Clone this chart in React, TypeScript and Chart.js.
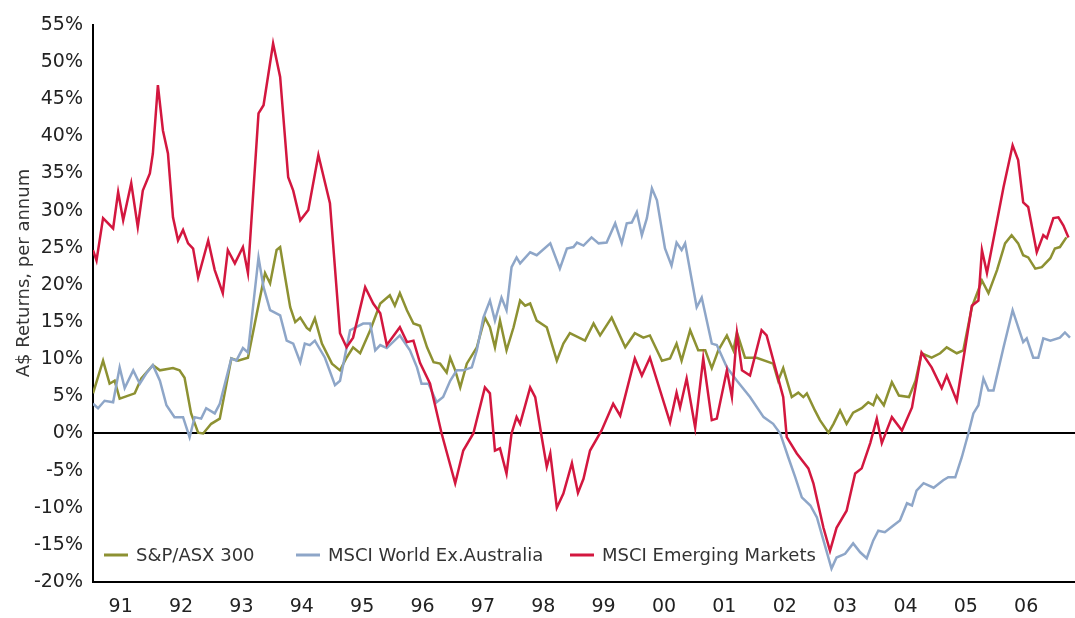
import React, { useEffect, useRef } from "react";
import { Chart, registerables } from "chart.js";

Chart.register(...registerables);

// x values are months since Jan 1991
const yearLabels = ["91", "92", "93", "94", "95", "96", "97", "98", "99", "00", "01", "02", "03", "04", "05", "06"];
const yearTickMonths = [5.5, 17.5, 29.5, 41.5, 53.5, 65.5, 77.5, 89.5, 101.5, 113.5, 125.5, 137.5, 149.5, 161.5, 173.5, 185.5];

const seriesNames = ["S&P/ASX 300", "MSCI World Ex.Australia", "MSCI Emerging Markets"];

const asxMonths = [0.0, 2.0, 3.3, 4.3, 5.3, 8.3, 9.6, 11.9, 13.3, 15.9, 17.2, 18.2, 19.5, 20.9, 21.9, 23.5, 25.2, 27.5, 28.8, 30.8, 33.2, 34.2, 35.2, 36.5, 37.2, 38.2, 39.2, 40.2, 41.2, 42.5, 43.1, 44.1, 45.5, 47.5, 49.1, 50.4, 51.7, 53.1, 55.1, 57.1, 59.0, 60.0, 61.0, 62.4, 63.7, 65.0, 66.4, 67.7, 69.0, 70.3, 71.0, 72.0, 73.0, 74.3, 76.3, 77.9, 78.9, 79.9, 80.9, 82.2, 83.6, 84.9, 85.9, 86.9, 88.2, 90.2, 92.2, 93.5, 94.8, 97.8, 99.5, 100.8, 103.1, 105.8, 107.7, 109.4, 110.7, 113.1, 114.7, 116.0, 117.0, 118.7, 120.3, 121.7, 123.0, 124.3, 126.0, 127.3, 128.0, 129.6, 131.9, 135.2, 136.2, 137.2, 138.9, 140.2, 141.2, 141.9, 143.5, 144.5, 146.2, 147.2, 148.5, 149.8, 151.1, 152.8, 154.1, 155.1, 155.8, 157.2, 158.8, 160.2, 162.2, 163.5, 164.7, 166.7, 168.4, 169.7, 171.7, 173.0, 174.7, 176.7, 178.0, 179.7, 181.3, 182.6, 183.9, 184.9, 185.9, 187.3, 188.6, 190.3, 191.2, 192.2, 193.5];
const asxValues = [5.4, 9.8, 6.7, 7.1, 4.7, 5.4, 7.4, 9.2, 8.5, 8.8, 8.5, 7.5, 2.7, 0.1, 0.0, 1.3, 2.0, 10.1, 9.8, 10.2, 18.3, 21.6, 20.2, 24.7, 25.1, 21.0, 17.0, 15.0, 15.6, 14.2, 13.9, 15.5, 12.1, 9.4, 8.5, 10.2, 11.6, 10.8, 13.9, 17.5, 18.6, 17.2, 18.9, 16.6, 14.8, 14.5, 11.6, 9.6, 9.4, 8.2, 10.2, 8.5, 6.2, 9.4, 11.6, 15.6, 14.3, 11.6, 15.2, 11.2, 14.3, 17.9, 17.2, 17.5, 15.2, 14.3, 9.8, 12.1, 13.5, 12.5, 14.8, 13.2, 15.6, 11.6, 13.5, 12.9, 13.2, 9.8, 10.1, 12.1, 9.8, 13.9, 11.2, 11.2, 8.8, 11.2, 13.2, 11.2, 13.6, 10.2, 10.2, 9.4, 7.1, 8.8, 4.9, 5.5, 4.9, 5.4, 3.1, 1.8, 0.1, 1.3, 3.1, 1.3, 2.8, 3.4, 4.2, 3.8, 5.1, 3.8, 6.9, 5.1, 4.9, 7.1, 10.8, 10.2, 10.8, 11.6, 10.8, 11.2, 17.0, 20.6, 18.9, 22.0, 25.6, 26.7, 25.6, 24.0, 23.7, 22.2, 22.4, 23.6, 24.9, 25.1, 26.4];

const worldMonths = [0.0, 1.0, 2.3, 4.0, 5.3, 6.3, 8.0, 9.3, 10.6, 11.9, 13.3, 14.6, 16.2, 17.9, 19.2, 20.2, 21.5, 22.5, 24.2, 25.2, 27.5, 28.5, 29.8, 30.8, 32.9, 33.9, 35.2, 37.2, 38.5, 39.8, 41.2, 42.1, 43.1, 44.1, 46.1, 48.1, 49.1, 51.1, 53.7, 55.1, 56.1, 57.1, 58.4, 61.0, 63.0, 64.4, 65.3, 66.7, 68.3, 69.6, 71.0, 72.3, 73.6, 75.3, 76.3, 77.6, 78.9, 79.9, 81.2, 82.2, 83.2, 84.2, 84.9, 86.9, 88.2, 90.9, 92.8, 94.2, 95.5, 96.2, 97.5, 99.1, 100.5, 102.1, 103.8, 105.1, 106.1, 107.1, 108.1, 109.1, 110.1, 111.1, 112.1, 113.7, 115.0, 116.0, 117.0, 117.7, 120.0, 121.0, 123.0, 124.0, 126.0, 128.0, 130.6, 133.3, 135.2, 136.6, 138.2, 139.6, 140.9, 142.6, 143.9, 145.2, 146.8, 147.8, 149.5, 151.1, 152.5, 153.8, 155.1, 156.1, 157.4, 159.1, 160.4, 161.8, 162.8, 163.7, 165.1, 167.1, 169.0, 170.0, 171.4, 172.7, 174.0, 175.0, 176.0, 177.0, 178.0, 179.0, 181.0, 182.8, 184.3, 184.9, 185.6, 186.9, 187.9, 188.9, 190.3, 192.2, 193.2, 194.2];
const worldValues = [4.0, 3.4, 4.4, 4.2, 8.9, 6.1, 8.5, 6.7, 8.1, 9.2, 7.1, 3.8, 2.2, 2.2, -0.5, 2.2, 2.0, 3.4, 2.7, 4.0, 10.1, 9.8, 11.5, 10.9, 23.7, 19.7, 16.6, 15.9, 12.5, 12.1, 9.6, 12.1, 11.9, 12.5, 10.2, 6.5, 7.1, 13.9, 14.8, 14.8, 11.2, 11.9, 11.5, 13.2, 11.2, 8.9, 6.7, 6.7, 4.2, 4.9, 7.1, 8.5, 8.5, 8.9, 11.2, 15.6, 17.9, 15.2, 18.3, 16.6, 22.4, 23.7, 22.9, 24.4, 24.0, 25.6, 22.2, 24.9, 25.1, 25.7, 25.3, 26.4, 25.6, 25.7, 28.3, 25.6, 28.3, 28.4, 29.8, 26.7, 29.0, 33.0, 31.4, 24.9, 22.6, 25.7, 24.7, 25.6, 17.0, 18.3, 12.1, 11.9, 8.9, 7.1, 4.9, 2.2, 1.3, 0.0, -3.2, -5.9, -8.6, -9.7, -11.3, -14.4, -18.2, -16.7, -16.2, -14.8, -16.0, -16.8, -14.4, -13.1, -13.3, -12.4, -11.7, -9.4, -9.7, -7.7, -6.7, -7.3, -6.3, -5.9, -5.9, -3.2, 0.0, 2.7, 3.8, 7.4, 5.8, 5.8, 11.6, 16.6, 13.5, 12.3, 12.8, 10.2, 10.2, 12.8, 12.5, 12.9, 13.6, 12.9];

const emMonths = [0.0, 0.7, 2.0, 4.0, 5.0, 6.0, 7.6, 8.9, 9.9, 11.3, 11.9, 12.9, 13.9, 14.9, 15.9, 16.9, 17.9, 18.9, 19.9, 20.9, 22.9, 24.2, 25.8, 26.8, 28.2, 29.8, 30.8, 32.9, 33.9, 35.8, 37.2, 38.8, 39.8, 41.2, 42.8, 44.8, 47.1, 49.1, 50.4, 51.7, 54.1, 55.7, 57.1, 58.4, 61.0, 62.4, 63.7, 65.0, 67.0, 69.3, 72.0, 73.6, 75.6, 77.9, 78.9, 79.9, 80.9, 82.2, 83.2, 84.2, 84.9, 86.9, 87.9, 89.2, 90.2, 90.9, 92.2, 93.5, 95.2, 96.4, 97.5, 98.8, 101.1, 103.4, 104.8, 107.7, 109.1, 110.7, 114.7, 116.0, 116.7, 118.0, 119.7, 121.3, 123.0, 124.0, 126.0, 127.0, 128.0, 129.0, 130.6, 132.9, 133.9, 137.2, 137.9, 139.9, 142.2, 143.2, 145.2, 146.5, 147.8, 149.8, 151.5, 152.8, 154.5, 155.8, 156.8, 158.8, 160.8, 162.8, 164.7, 166.7, 168.7, 169.7, 171.7, 174.7, 176.0, 176.7, 177.7, 181.0, 182.8, 183.9, 184.9, 185.9, 187.6, 188.9, 189.6, 190.9, 191.9, 192.9, 193.9];
const emValues = [24.7, 23.3, 29.0, 27.6, 32.5, 28.7, 33.7, 27.8, 32.7, 35.0, 37.7, 46.9, 40.8, 37.7, 29.1, 26.0, 27.4, 25.6, 24.9, 21.0, 26.0, 22.0, 18.9, 24.7, 22.9, 25.1, 21.6, 43.1, 44.2, 52.5, 48.0, 34.5, 32.7, 28.7, 30.1, 37.5, 31.0, 13.5, 11.6, 12.9, 19.7, 17.5, 16.2, 11.9, 14.3, 12.3, 12.5, 9.5, 6.7, 0.0, -6.7, -2.3, 0.0, 6.2, 5.4, -2.3, -2.0, -5.4, 0.0, 2.2, 1.3, 6.2, 4.9, -0.5, -4.5, -2.7, -10.0, -8.1, -4.0, -8.0, -6.1, -2.3, 0.4, 4.0, 2.4, 10.1, 7.8, 10.2, 1.5, 5.5, 3.5, 7.4, 0.8, 10.1, 1.8, 2.0, 8.5, 4.9, 13.5, 8.5, 7.8, 13.9, 13.2, 4.9, -0.5, -2.7, -4.7, -6.7, -12.7, -15.8, -12.7, -10.4, -5.4, -4.7, -1.3, 2.0, -1.3, 2.2, 0.4, 3.5, 10.9, 8.9, 6.1, 7.8, 4.4, 17.2, 17.9, 24.7, 21.6, 33.2, 38.8, 36.8, 31.1, 30.5, 24.4, 26.7, 26.3, 29.0, 29.1, 28.0, 26.4];

const seriesColors = ["#8d9132", "#8ea6c8", "#d3173f"];

const FONT = "'DejaVu Sans', sans-serif";

const titlePlugin = {
  id: "customTitleLegend",
  afterDraw(chart: any) {
    const ctx = chart.ctx;
    ctx.save();
    // y-axis title
    ctx.fillStyle = "#333";
    ctx.font = `18px ${FONT}`;
    ctx.textAlign = "center";
    ctx.textBaseline = "middle";
    ctx.translate(24, 273);
    ctx.rotate(-Math.PI / 2);
    ctx.fillText("A$ Returns, per annum", 0, 0);
    ctx.restore();

    // legend inside plot area
    ctx.save();
    const itemX = [104, 296, 570];
    const y = 556;
    ctx.font = `18px ${FONT}`;
    ctx.textAlign = "left";
    ctx.textBaseline = "middle";
    chart.data.datasets.forEach((ds: any, i: number) => {
      const x = itemX[i];
      ctx.strokeStyle = ds.borderColor;
      ctx.lineWidth = 3;
      ctx.beginPath();
      ctx.moveTo(x, y - 1);
      ctx.lineTo(x + 24, y - 1);
      ctx.stroke();
      ctx.fillStyle = "#333";
      ctx.fillText(ds.label, x + 32, y);
    });
    ctx.restore();
  },
};

export default function App() {
  const ref = useRef<HTMLCanvasElement | null>(null);
  useEffect(() => {
    if (!ref.current) return;
    const mk = (months: number[], vals: number[]) => months.map((m, i) => ({ x: m, y: vals[i] }));
    const chart = new Chart(ref.current, {
      type: "line",
      data: {
        datasets: [
          { label: seriesNames[0], data: mk(asxMonths, asxValues), borderColor: seriesColors[0], order: 2 },
          { label: seriesNames[1], data: mk(worldMonths, worldValues), borderColor: seriesColors[1], order: 1 },
          { label: seriesNames[2], data: mk(emMonths, emValues), borderColor: seriesColors[2], order: 0 },
        ].map((d) => ({ ...d, borderWidth: 2.5, pointRadius: 0, tension: 0, fill: false })),
      },
      options: {
        animation: false,
        responsive: true,
        maintainAspectRatio: false,
        layout: { padding: { top: 25, left: 0, right: 0, bottom: 0 } },
        plugins: { legend: { display: false }, tooltip: { enabled: false } },
        scales: {
          x: {
            type: "linear",
            min: 0,
            max: 195.2,
            grid: { display: false, drawTicks: false },
            border: { display: true, color: "#000", width: 2 },
            afterBuildTicks: (scale: any) => {
              scale.ticks = yearTickMonths.map((v) => ({ value: v }));
            },
            afterFit: (scale: any) => {
              scale.height = 36;
            },
            ticks: {
              autoSkip: false,
              maxRotation: 0,
              padding: 14,
              color: "#222",
              font: { family: FONT, size: 19 },
              callback: (_v: any, idx: number) => yearLabels[idx],
            },
          },
          y: {
            min: -20,
            max: 55,
            afterFit: (scale: any) => {
              scale.width = 93;
            },
            grid: {
              drawTicks: false,
              color: (c: any) => (c.tick && c.tick.value === 0 ? "#000" : "rgba(0,0,0,0)"),
              lineWidth: (c: any) => (c.tick && c.tick.value === 0 ? 2 : 0),
            },
            border: { display: true, color: "#000", width: 2 },
            ticks: {
              stepSize: 5,
              padding: 10,
              color: "#222",
              font: { family: FONT, size: 19 },
              callback: (v: any) => `${v}%`,
            },
          },
        },
      },
      plugins: [titlePlugin],
    });
    return () => chart.destroy();
  }, []);
  return (
    <div style={{ position: "fixed", left: 0, top: 0, width: 1075, height: 618, background: "#fff" }}>
      <canvas ref={ref} />
    </div>
  );
}
